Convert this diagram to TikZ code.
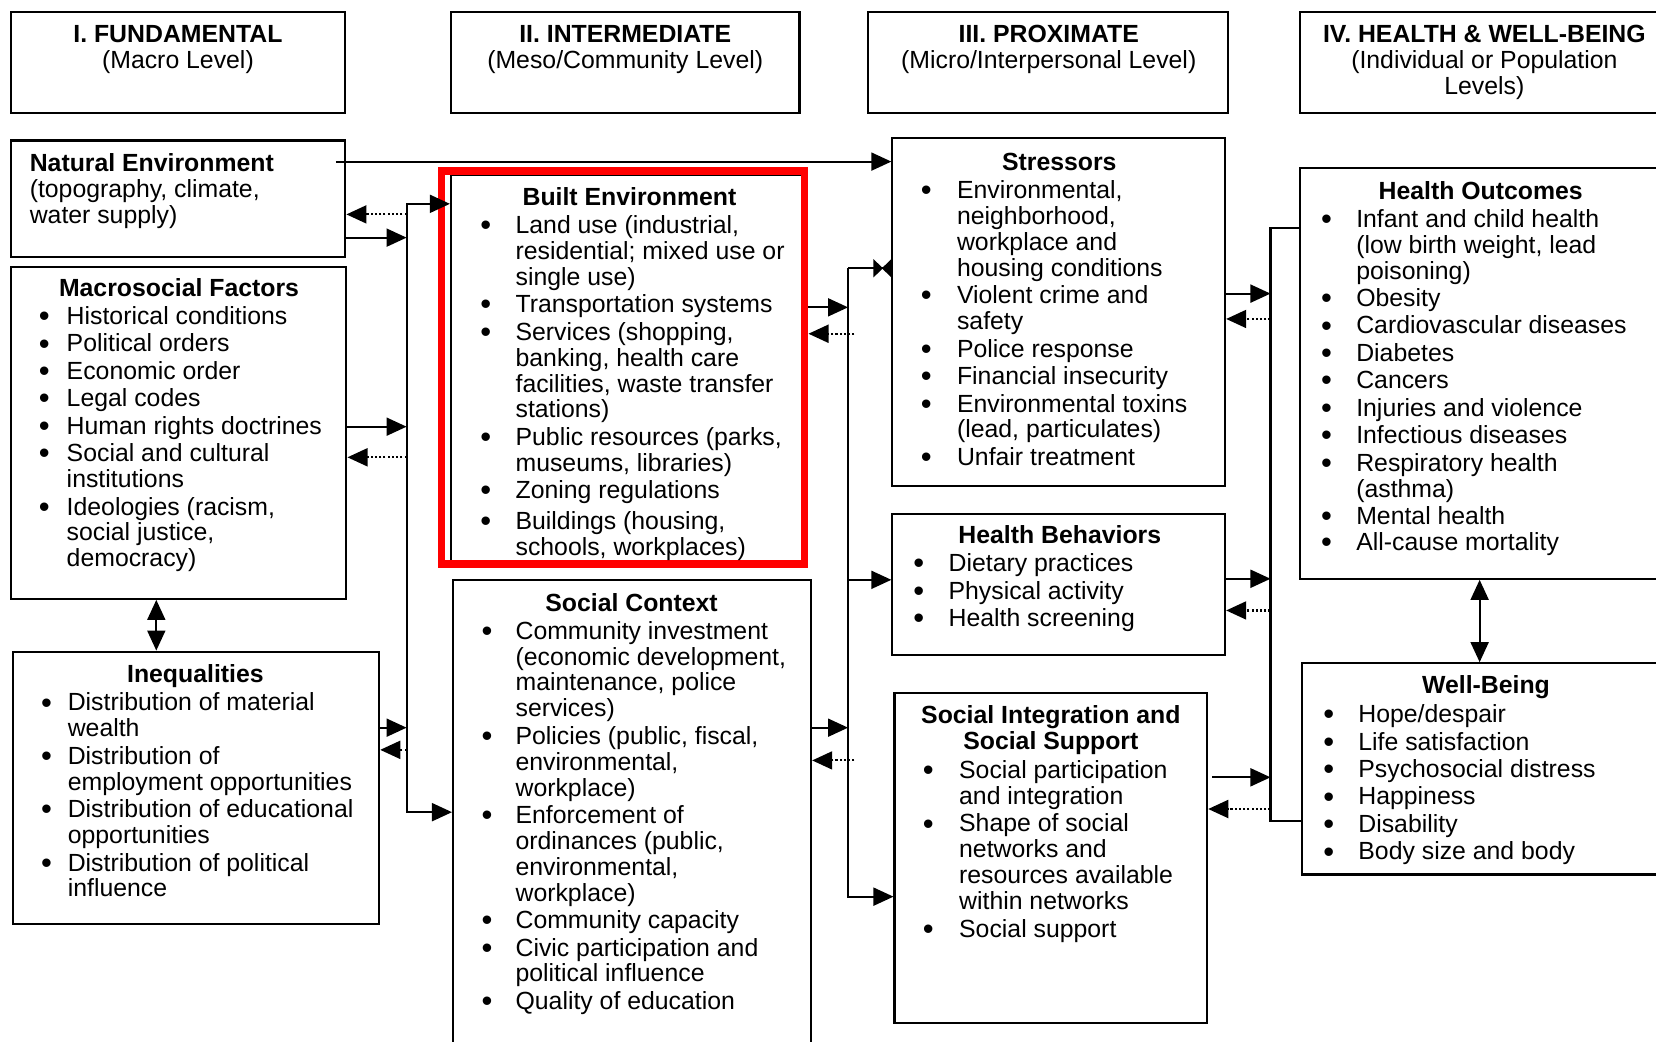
\documentclass[tikz,border=0pt]{standalone}
\usepackage{fontspec}
\setmainfont{Liberation Sans}
\usetikzlibrary{arrows.meta,fit}
\newcommand\ts{\rule{0pt}{18pt}}
\def\bg{24}
\newcommand\bu{\llap{\smash{\raisebox{-2pt}{\scalebox{1.25}{\textbullet}}}\hspace{\bg pt}}}
\newcommand\isep{\\[1.5pt]}
\begin{document}
\begin{tikzpicture}[x=1pt,y=-1pt,
  font=\fontsize{23.5}{24.5}\selectfont,
  every node/.style={inner sep=0pt},
  box/.style={draw,line width=2pt,inner sep=0pt},
  txt/.style={anchor=north west,align=left},
  ttl/.style={anchor=base,font=\fontsize{23.5}{24.5}\selectfont\bfseries},
  ln/.style={line width=2pt},
  dot/.style={dash pattern=on 2pt off 2pt},
  tip/.style={-{Triangle[length=19pt,width=17pt]}},
  tips/.style={{Triangle[length=19pt,width=17pt]}-{Triangle[length=19pt,width=17pt]}},
  bow/.style={-{Triangle[length=9pt,width=17pt,sep=-1pt]Triangle[length=9pt,width=17pt,reversed]}}
]
\useasboundingbox (0,0) rectangle (1568,986);
\clip (0,0) rectangle (1568,986);

% header boxes
\node[box,fit={(10,11)(327,107)}] (h1) {};
\node[anchor=north,align=center] (h1t) at (168.5,22) {\ts\textbf{I. FUNDAMENTAL}\\(Macro Level)};
\node[box,fit={(427,11)(757,107)}] (h2) {};
\node[anchor=north,align=center] (h2t) at (592,22) {\ts\textbf{II. INTERMEDIATE}\\(Meso/Community Level)};
\node[box,fit={(822,11)(1163,107)}] (h3) {};
\node[anchor=north,align=center] (h3t) at (993,22) {\ts\textbf{III. PROXIMATE}\\(Micro/Interpersonal Level)};
\node[box,fit={(1231,11)(1590,107)}] (h4) {};
\node[anchor=north,align=center] (h4t) at (1405.5,22) {\ts\textbf{IV. HEALTH \& WELL-BEING}\\(Individual or Population\\Levels)};

% column 1
\node[box,fit={(10,133)(327,243)}] (ne) {};
\node[txt] (net) at (28,144) {\ts\textbf{Natural Environment}\\(topography, climate,\\water supply)};

\node[box,fit={(10,253)(328,567)}] (ms) {};
\node[ttl] (mst) at (169.5,281) {Macrosocial Factors};
\node[txt,execute at begin node={\def\bg{16}}] (msl) at (63,289) {\ts\bu Historical conditions\isep
\bu Political orders\isep
\bu Economic order\isep
\bu Legal codes\isep
\bu Human rights doctrines\isep
\bu Social and cultural\\
institutions\isep
\bu Ideologies (racism,\\
social justice,\\
democracy)};

\node[box,fit={(12,617)(359,875)}] (iq) {};
\node[ttl] (iqt) at (185,646) {Inequalities};
\node[txt,execute at begin node={\def\bg{15}}] (iql) at (64,655) {\ts\bu Distribution of material\\
wealth\isep
\bu Distribution of\\
employment opportunities\isep
\bu Distribution of educational\\
opportunities\isep
\bu Distribution of political\\
influence};

% column 2
\node[box,fit={(427,166)(760,533)}] (be) {};
\node[draw=red,line width=7pt,inner sep=0pt,fit={(418,162)(762,534)}] (rb) {};
\node[ttl] (bet) at (596,195) {Built Environment};
\node[txt,execute at begin node={\def\bg{23}}] (bel) at (488,203) {\ts\bu Land use (industrial,\\
residential; mixed use or\\
single use)\isep
\bu Transportation systems\isep
\bu Services (shopping,\\
banking, health care\\
facilities, waste transfer\\
stations)\isep
\bu Public resources (parks,\\
museums, libraries)\isep
\bu Zoning regulations\\[5pt]
\bu Buildings (housing,\\
schools, workplaces)};

\node[box,fit={(429,549)(768,1000)}] (sc) {};
\node[ttl] (sct) at (598,579) {Social Context};
\node[txt,execute at begin node={\def\bg{22}}] (scl) at (488,587) {\ts\bu Community investment\\
(economic development,\\
maintenance, police\\
services)\isep
\bu Policies (public, fiscal,\\
environmental,\\
workplace)\isep
\bu Enforcement of\\
ordinances (public,\\
environmental,\\
workplace)\isep
\bu Community capacity\isep
\bu Civic participation and\\
political influence\isep
\bu Quality of education};

% column 3
\node[box,fit={(845,131)(1160,460)}] (st) {};
\node[ttl] (stt) at (1003,161) {Stressors};
\node[txt,execute at begin node={\def\bg{24}}] (stl) at (906,170) {\ts\bu Environmental,\\
neighborhood,\\
workplace and\\
housing conditions\isep
\bu Violent crime and\\
safety\isep
\bu Police response\isep
\bu Financial insecurity\isep
\bu Environmental toxins\\
(lead, particulates)\isep
\bu Unfair treatment};

\node[box,fit={(845,487)(1160,620)}] (hb) {};
\node[ttl] (hbt) at (1003.5,515) {Health Behaviors};
\node[txt,execute at begin node={\def\bg{23}}] (hbl) at (898,523) {\ts\bu Dietary practices\isep
\bu Physical activity\isep
\bu Health screening};

\node[box,fit={(847,656)(1143,969)}] (si) {};
\node[anchor=north,align=center] (sit) at (995,667) {\ts\textbf{Social Integration and}\\\textbf{Social Support}};
\node[txt,execute at begin node={\def\bg{24}}] (sil) at (908,719) {\ts\bu Social participation\\
and integration\isep
\bu Shape of social\\
networks and\\
resources available\\
within networks\isep
\bu Social support};

% column 4
\node[box,fit={(1231,159)(1590,548)}] (ho) {};
\node[ttl] (hot) at (1402,189) {Health Outcomes};
\node[txt,execute at begin node={\def\bg{23}}] (hol) at (1284,197) {\ts\bu Infant and child health\\
(low birth weight, lead\\
poisoning)\isep
\bu Obesity\isep
\bu Cardiovascular diseases\isep
\bu Diabetes\isep
\bu Cancers\isep
\bu Injuries and violence\isep
\bu Infectious diseases\isep
\bu Respiratory health\\
(asthma)\\[1pt]
\bu Mental health\\[0.5pt]
\bu All-cause mortality};

\node[box,fit={(1233,628)(1590,828)}] (wb) {};
\node[ttl] (wbt) at (1407,657) {Well-Being};
\node[txt,execute at begin node={\def\bg{23}}] (wbl) at (1286,666) {\ts\bu Hope/despair\isep
\bu Life satisfaction\isep
\bu Psychosocial distress\isep
\bu Happiness\isep
\bu Disability\isep
\bu Body size and body};

% bus A
\coordinate (a1) at (385,193);
\coordinate (a2) at (385,769);
\draw[ln,tips] (be.west |- a1) -- (a1) -- (a2) -- (sc.west |- a2);
\draw[ln,tip] (ne.east |- 0,225) -- (a1 |- 0,225);
\draw[ln,dot,tip] (a1 |- 0,203) -- (ne.east |- 0,203);
\draw[ln,tip] (ms.east |- 0,404) -- (a1 |- 0,404);
\draw[ln,dot,tip] (a1 |- 0,433) -- (ms.east |- 0,433);
\draw[ln,tip] (iq.east |- 0,689) -- (a1 |- 0,689);
\draw[ln,dot,tip] (a1 |- 0,710) -- (iq.east |- 0,710);

% long arrow
\coordinate (neo) at (318,153);
\draw[ln,tip] (neo) -- (st.west |- neo);

% bus B
\coordinate (b1) at (803,254);
\coordinate (b2) at (803,849);
\coordinate (b3) at (809,316);
\coordinate (b4) at (809,720);
\draw[ln,bow] (b1) -- (st.west |- b1);
\draw[ln,tip] (b1) -- (b2) -- (si.west |- b2);
\draw[ln,tip] (b1 |- 0,549) -- (hb.west |- 0,549);
\draw[ln,tip] (rb.east |- 0,291) -- (b1 |- 0,291);
\draw[ln,dot,tip] (b3) -- (rb.east |- b3);
\draw[ln,tip] (sc.east |- 0,689) -- (b1 |- 0,689);
\draw[ln,dot,tip] (b4) -- (sc.east |- b4);

% bus C
\coordinate (c1) at (1203,216);
\coordinate (c2) at (1203,777);
\draw[ln] (ho.west |- c1) -- (c1) -- (c2) -- (wb.west |- c2);
\draw[ln,tip] (st.east |- 0,278) -- (c1 |- 0,278);
\draw[ln,dot,tip] (c1 |- 0,302) -- (st.east |- 0,302);
\draw[ln,tip] (hb.east |- 0,548) -- (c1 |- 0,548);
\draw[ln,dot,tip] (c1 |- 0,578) -- (hb.east |- 0,578);
\coordinate (sio) at (1148,736);
\draw[ln,tip] (sio) -- (c1 |- sio);
\draw[ln,dot,tip] (c1 |- 0,766) -- (si.east |- 0,766);

% double arrows
\draw[ln,tips] (ms.south -| 148,0) -- (iq.north -| 148,0);
\draw[ln,tips] (ho.south -| 1401,0) -- (wb.north -| 1401,0);
\end{tikzpicture}
\end{document}
